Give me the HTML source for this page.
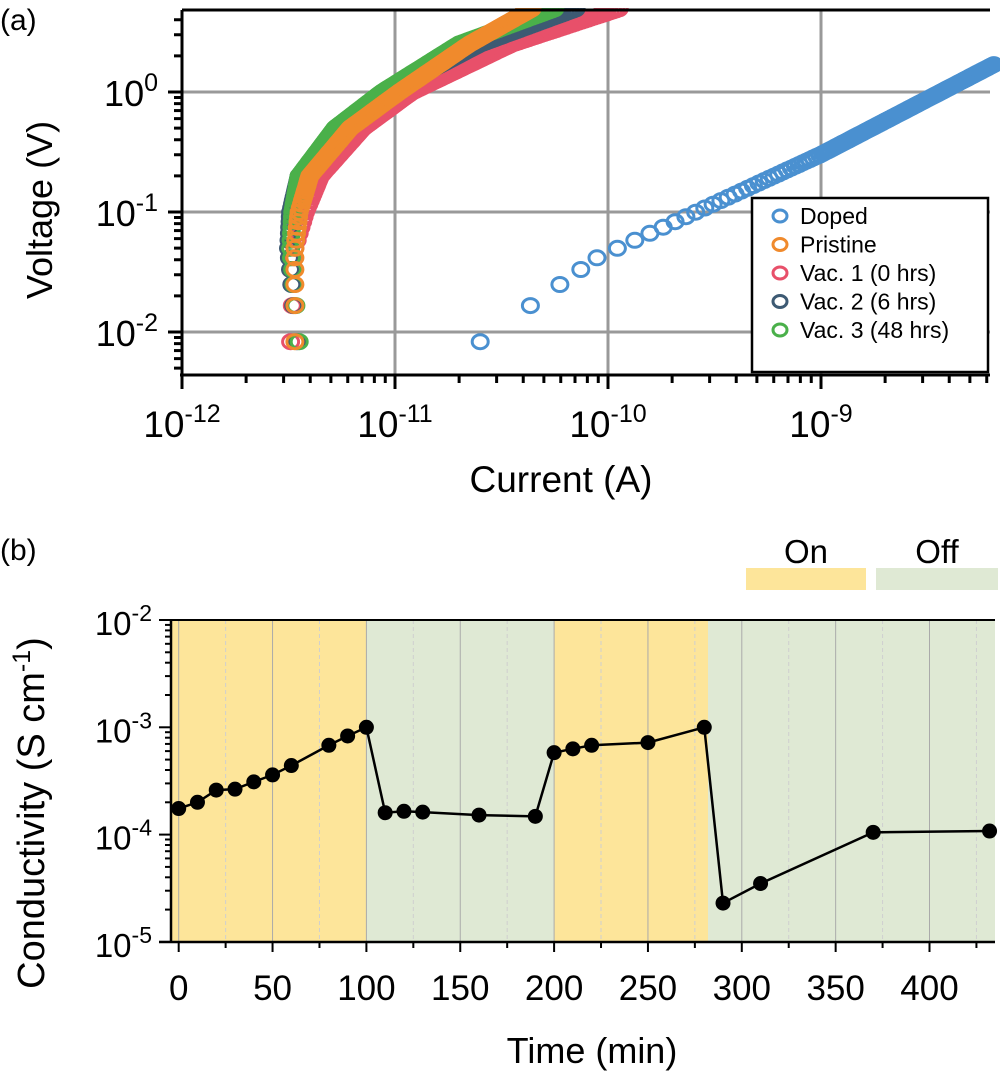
<!DOCTYPE html>
<html><head><meta charset="utf-8">
<style>
html,body{margin:0;padding:0;background:#fff;}
svg{display:block;font-family:"Liberation Sans",Arial,sans-serif;}
</style></head>
<body>
<svg id="s" width="1000" height="1073" viewBox="0 0 1000 1073" xmlns="http://www.w3.org/2000/svg">
<text x="0" y="30" font-size="30">(a)</text>
<text x="0" y="560" font-size="30">(b)</text>
<g id="a"></g>
<g id="b"></g>
</svg>
<script>
const NS="http://www.w3.org/2000/svg";
function el(p,t,a,txt){const e=document.createElementNS(NS,t);for(const k in a)e.setAttribute(k,a[k]);if(txt!==undefined)e.textContent=txt;p.appendChild(e);return e;}
const A=document.getElementById('a'),B=document.getElementById('b');
// ---- panel a ----
const L=182,T=10,R=990,Bt=375;
const X=li=>182+(li+12)*213, Y=lv=>92-lv*120;
for(const d of [-11,-10,-9]) el(A,'line',{x1:X(d),x2:X(d),y1:T,y2:Bt,stroke:'#999','stroke-width':3});
for(const d of [0,-1,-2]) el(A,'line',{x1:L,x2:R,y1:Y(d),y2:Y(d),stroke:'#999','stroke-width':3});
function interp(k,x){if(x<=k[0][0])return k[0][1];for(let i=1;i<k.length;i++){if(x<=k[i][0]){const t=(x-k[i-1][0])/(k[i][0]-k[i-1][0]);return k[i-1][1]+t*(k[i][1]-k[i-1][1]);}}const n=k.length;const t=(x-k[n-2][0])/(k[n-1][0]-k[n-2][0]);return k[n-2][1]+t*(k[n-1][1]-k[n-2][1]);}
const series=[
 {c:'#4a90d0',vmax:1.7,k:[[-2.08,-10.6],[-1.38,-10.05],[-0.52,-9.0],[0.2,-8.22]]},
 {c:'#e8506a',vmax:5,k:[[-2.08,-11.49],[-1.3,-11.47],[-1,-11.42],[-0.7,-11.35],[-0.3,-11.15],[0,-10.92],[0.4,-10.45],[0.68,-9.97]]},
 {c:'#3d5a73',vmax:5,k:[[-2.08,-11.46],[-1.3,-11.50],[-1,-11.49],[-0.7,-11.45],[-0.3,-11.27],[0,-11.03],[0.4,-10.60],[0.68,-10.17]]},
 {c:'#4ab04a',vmax:5,k:[[-2.08,-11.45],[-1.3,-11.49],[-1,-11.48],[-0.7,-11.45],[-0.3,-11.28],[0,-11.06],[0.4,-10.70],[0.68,-10.27]]},
 {c:'#f08a2c',vmax:5,k:[[-2.08,-11.47],[-1.3,-11.47],[-1,-11.45],[-0.7,-11.40],[-0.3,-11.21],[0,-10.98],[0.4,-10.65],[0.68,-10.37]]}
];
const clipA=el(A,'clipPath',{id:'ca'});el(clipA,'rect',{x:L,y:T-2,width:R-L+12,height:Bt-T});
const dg=el(A,'g',{'clip-path':'url(#ca)'});
for(const s of series){for(let v=0.0083;v<=s.vmax;v+=Math.max(0.0083,v*0.02)){const lv=Math.log10(v);const li=interp(s.k,lv);el(dg,'ellipse',{cx:X(li).toFixed(1),cy:Y(lv).toFixed(1),rx:8,ry:7,fill:'none',stroke:s.c,'stroke-width':3});}}
el(A,'line',{x1:L,x2:L,y1:T,y2:Bt+2,stroke:'#000','stroke-width':3});
el(A,'line',{x1:L-2,x2:R,y1:Bt,y2:Bt,stroke:'#000','stroke-width':3});
el(A,'line',{x1:L,x2:R,y1:T,y2:T,stroke:'#000','stroke-width':3});
for(let d=-12;d<=-9;d++){for(let m=1;m<10;m++){const x=X(d+Math.log10(m));if(x>R)break;el(A,'line',{x1:x,x2:x,y1:Bt,y2:Bt+(m==1?14:8),stroke:'#000','stroke-width':3});}}
for(let d=-3;d<=0;d++){for(let m=1;m<10;m++){const y=Y(d+Math.log10(m));if(y<T||y>Bt)continue;el(A,'line',{x1:L,x2:L-(m==1?14:8),y1:y,y2:y,stroke:'#000','stroke-width':3});}}
[[-12,'-12'],[-11,'-11'],[-10,'-10'],[-9,'-9']].forEach(([d,e])=>{const t=el(A,'text',{x:X(d),y:437,'font-size':37,'text-anchor':'middle'});t.innerHTML='10<tspan dy="-15" font-size="25">'+e+'</tspan>';});
[[0,'0'],[-1,'-1'],[-2,'-2']].forEach(([d,e])=>{const t=el(A,'text',{x:158,y:Y(d)+14,'font-size':36,'text-anchor':'end'});t.innerHTML='10<tspan dy="-15" font-size="25">'+e+'</tspan>';});
el(A,'text',{x:561,y:492,'font-size':37,'text-anchor':'middle'},'Current (A)');
el(A,'text',{x:0,y:0,'font-size':36,'text-anchor':'middle',transform:'translate(52,210) rotate(-90)'},'Voltage (V)');
el(A,'rect',{x:752,y:198,width:236,height:174,fill:'#fff',stroke:'#000','stroke-width':2.5});
const lg=[['#4a90d0','Doped'],['#f08a2c','Pristine'],['#e8506a','Vac. 1 (0 hrs)'],['#3d5a73','Vac. 2 (6 hrs)'],['#4ab04a','Vac. 3 (48 hrs)']];
lg.forEach(([c,t],i)=>{const y=216+i*28.5;el(A,'ellipse',{cx:780,cy:y,rx:7,ry:6,fill:'none',stroke:c,'stroke-width':3});el(A,'text',{x:800,y:y+8,'font-size':23},t);});
// ---- panel b ----
const bl=171,bt=620,br=995,bb=942;
const TX=t=>178.7+t*1.877, CY=lc=>620-(lc+2)*107.3;
el(B,'rect',{x:bl,y:bt,width:TX(100)-bl,height:bb-bt,fill:'#fde59a'});
el(B,'rect',{x:TX(100),y:bt,width:TX(200)-TX(100),height:bb-bt,fill:'#dfe9d4'});
el(B,'rect',{x:TX(200),y:bt,width:TX(282)-TX(200),height:bb-bt,fill:'#fde59a'});
el(B,'rect',{x:TX(282),y:bt,width:br-TX(282),height:bb-bt,fill:'#dfe9d4'});
for(let t=0;t<=425;t+=25){el(B,'line',{x1:TX(t),x2:TX(t),y1:bt,y2:bb,stroke:t%50?'#cfcfcf':'#aaa','stroke-width':1,'stroke-dasharray':t%50?'4,3':''});}
el(B,'rect',{x:746,y:568,width:120,height:22,fill:'#fde59a'});
el(B,'rect',{x:876,y:568,width:122,height:22,fill:'#dfe9d4'});
el(B,'text',{x:806,y:563,'font-size':33,'text-anchor':'middle'},'On');
el(B,'text',{x:937,y:563,'font-size':33,'text-anchor':'middle'},'Off');
const pts=[[0,1.75e-4],[10,2e-4],[20,2.6e-4],[30,2.65e-4],[40,3.1e-4],[50,3.6e-4],[60,4.4e-4],[80,6.8e-4],[90,8.3e-4],[100,1e-3],[110,1.6e-4],[120,1.65e-4],[130,1.62e-4],[160,1.52e-4],[190,1.48e-4],[200,5.8e-4],[210,6.3e-4],[220,6.8e-4],[250,7.2e-4],[280,1e-3],[290,2.3e-5],[310,3.5e-5],[370,1.05e-4],[432,1.08e-4]];
el(B,'polyline',{points:pts.map(p=>TX(p[0])+','+CY(Math.log10(p[1]))).join(' '),fill:'none',stroke:'#000','stroke-width':2.5});
pts.forEach(p=>el(B,'circle',{cx:TX(p[0]),cy:CY(Math.log10(p[1])),r:7.5,fill:'#000'}));
el(B,'line',{x1:bl,x2:bl,y1:bt,y2:bb+1,stroke:'#000','stroke-width':2.5});
el(B,'line',{x1:bl-12,x2:br,y1:bb,y2:bb,stroke:'#000','stroke-width':2.5});
el(B,'line',{x1:bl-12,x2:br,y1:bt,y2:bt,stroke:'#000','stroke-width':2});
for(let d=-5;d<-2;d++){for(let m=1;m<10;m++){const y=CY(d+Math.log10(m));el(B,'line',{x1:bl,x2:bl-(m==1?12:6),y1:y,y2:y,stroke:'#000','stroke-width':2});}}
el(B,'line',{x1:bl,x2:bl-12,y1:bt,y2:bt,stroke:'#000','stroke-width':2});
for(let t=0;t<=425;t+=25){el(B,'line',{x1:TX(t),x2:TX(t),y1:bb,y2:bb+(t%50?6:10),stroke:'#000','stroke-width':2});if(t%50==0)el(B,'text',{x:TX(t),y:1000,'font-size':35,'text-anchor':'middle'},String(t));}
[-2,-3,-4,-5].forEach(d=>{const t=el(B,'text',{x:152,y:CY(d)+15,'font-size':33,'text-anchor':'end'});t.innerHTML='10<tspan dy="-14" font-size="23">'+d+'</tspan>';});
el(B,'text',{x:592,y:1063,'font-size':36,'text-anchor':'middle'},'Time (min)');
const ct=el(B,'text',{x:0,y:0,'font-size':38,'text-anchor':'middle',transform:'translate(44,813) rotate(-90)'});
ct.innerHTML='Conductivity (S cm<tspan dy="-14" font-size="25">-1</tspan><tspan dy="14">)</tspan>';
</script>
</body></html>
